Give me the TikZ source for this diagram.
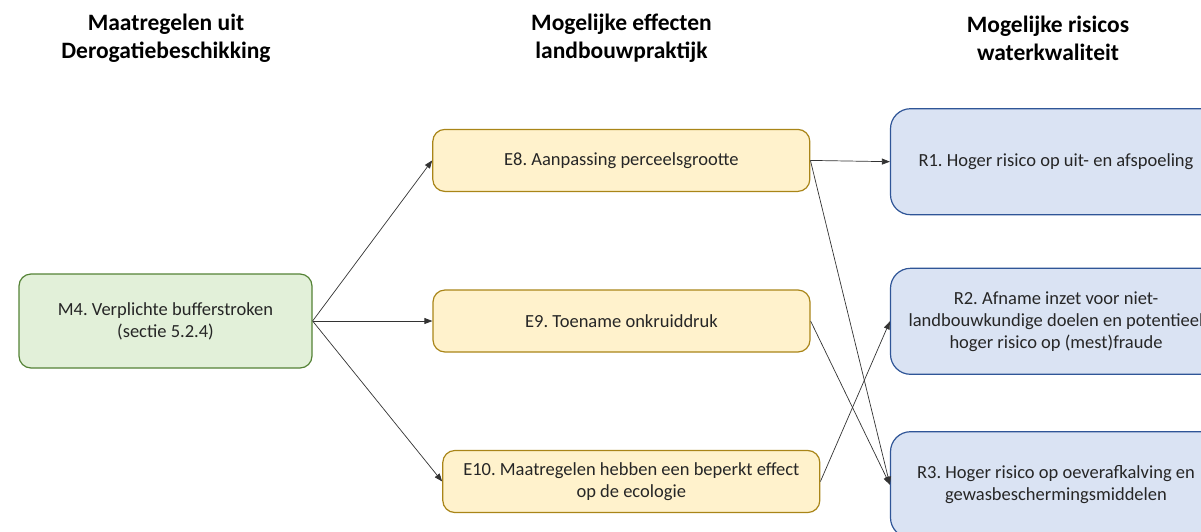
\documentclass[tikz,border=0pt]{standalone}
\usepackage{fontspec}
\setmainfont{Carlito}
\usetikzlibrary{arrows.meta}
\definecolor{gfill}{HTML}{E2F0D9}
\definecolor{gdraw}{HTML}{548235}
\definecolor{yfill}{HTML}{FFF2CC}
\definecolor{ydraw}{HTML}{A98518}
\definecolor{bfill}{HTML}{DAE3F3}
\definecolor{bdraw}{HTML}{2F5597}
\definecolor{txt}{HTML}{262626}
\begin{document}
\frenchspacing
\begin{tikzpicture}[x=1pt,y=-1pt,
  box/.style={rectangle, rounded corners=12pt, line width=1.2pt, align=center,
    text=txt, font=\fontsize{18.5}{22}\selectfont, inner sep=0pt},
  mbox/.style={box, fill=gfill, draw=gdraw, minimum width=293pt, minimum height=94pt},
  ebox/.style={box, fill=yfill, draw=ydraw, minimum width=377pt, minimum height=62pt},
  rbox/.style={box, fill=bfill, draw=bdraw, rounded corners=20pt, minimum width=331pt, minimum height=106pt},
  head/.style={align=center, font=\fontsize{23.5}{28}\selectfont\bfseries, inner sep=0pt},
  conn/.style={draw=black!80, line width=0.7pt, -{Triangle[length=8pt,width=6pt]}}]
\useasboundingbox (0,0) rectangle (1201,531);
\node[head] (h1) at (166,38) {Maatregelen uit\\Derogatiebeschikking};
\node[head] (h2) at (621.5,38) {Mogelijke effecten\\landbouwpraktijk};
\node[head] (h3) at (1048,38) {Mogelijke risicos\\waterkwaliteit};
\node[mbox] (m4) at (165.5,321) {M4. Verplichte bufferstroken\\(sectie 5.2.4)};
\node[ebox] (e8) at (621.3,160.4) {E8. Aanpassing perceelsgrootte};
\node[ebox] (e9) at (621.5,321) {E9. Toename onkruiddruk};
\node[ebox] (e10) at (631.3,481.5) {E10. Maatregelen hebben een beperkt effect\\op de ecologie};
\node[rbox] (r1) at (1056,161.7) {R1. Hoger risico op uit- en afspoeling};
\node[rbox] (r2) at (1056,321.3) {R2. Afname inzet voor niet-\\landbouwkundige doelen en potentieel\\hoger risico op (mest)fraude};
\node[rbox] (r3) at (1056,484.7) {R3. Hoger risico op oeverafkalving en\\gewasbeschermingsmiddelen};
\draw[conn] (m4.east) -- (e8.west);
\draw[conn] (m4.east) -- (e9.west);
\draw[conn] (m4.east) -- (e10.west);
\draw[conn] (e8.east) -- (r1.west);
\draw[conn] (e8.east) -- (r3.west);
\draw[conn] (e9.east) -- (r3.west);
\draw[conn] (e10.east) -- (r2.west);
\end{tikzpicture}
\end{document}
